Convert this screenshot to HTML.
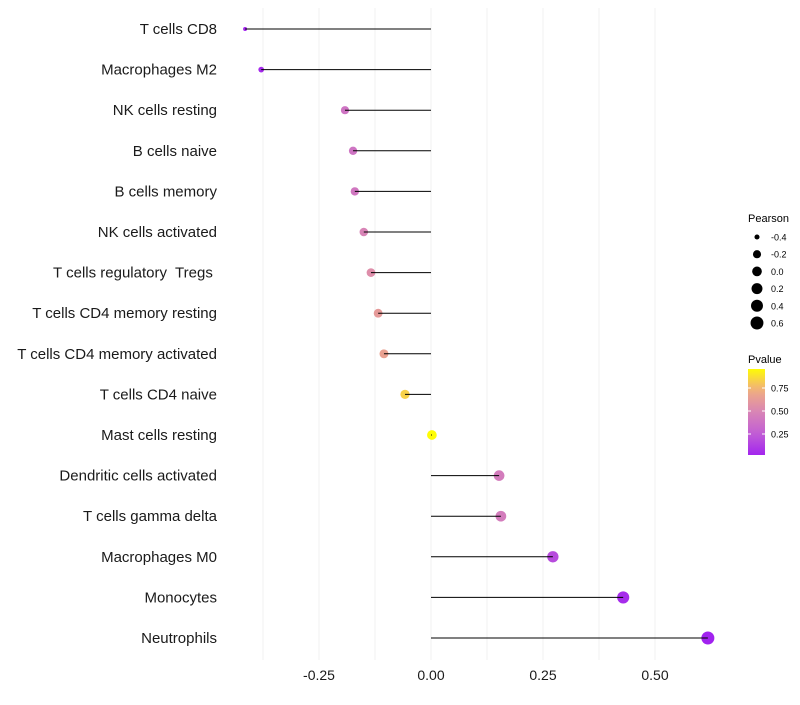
<!DOCTYPE html>
<html><head><meta charset="utf-8"><style>
body{margin:0;background:#fff;font-family:"Liberation Sans",sans-serif}
text{white-space:pre}
</style></head><body>
<svg id="c" width="800" height="700" xmlns="http://www.w3.org/2000/svg"></svg>
<script>
const categories=["T cells CD8","Macrophages M2","NK cells resting","B cells naive","B cells memory","NK cells activated","T cells regulatory  Tregs ","T cells CD4 memory resting","T cells CD4 memory activated","T cells CD4 naive","Mast cells resting","Dendritic cells activated","T cells gamma delta","Macrophages M0","Monocytes","Neutrophils"];
const pearson=[-0.415,-0.379,-0.192,-0.174,-0.170,-0.150,-0.134,-0.118,-0.105,-0.058,0.002,0.152,0.156,0.272,0.429,0.618];
const pvalue=[0.02,0.04,0.40,0.40,0.42,0.50,0.56,0.64,0.68,0.86,0.99,0.45,0.45,0.18,0.05,0.01];
const xTicks=[-0.25,0,0.25,0.5];
const xTickLabels=["-0.25","0.00","0.25","0.50"];
const sizeLegend=[-0.4,-0.2,0.0,0.2,0.4,0.6];
const sizeLegendLabels=["-0.4","-0.2","0.0","0.2","0.4","0.6"];
const pTicks=[0.25,0.5,0.75];
const pTickLabels=["0.25","0.50","0.75"];

const svg=document.getElementById('c');const NS="http://www.w3.org/2000/svg";
function mk(t,a,p){const e=document.createElementNS(NS,t);for(const k in a)e.setAttribute(k,a[k]);(p||svg).appendChild(e);return e;}
const x=v=>431+v*448;
const y=i=>29+i*40.6;
const r=v=>2+4.5*Math.sqrt(Math.max(0,(v+0.415)/1.033));
const stops=[[0,[160,32,240]],[0.25,[192,92,214]],[0.5,[216,132,182]],[0.75,[240,172,130]],[1,[255,255,0]]];
function col(p){for(let i=1;i<stops.length;i++){if(p<=stops[i][0]){const a=stops[i-1],b=stops[i],t=(p-a[0])/(b[0]-a[0]);return 'rgb('+a[1].map((c,j)=>Math.round(c+(b[1][j]-c)*t)).join(',')+')';}}return 'rgb(255,255,0)';}
const grid=mk('g',{});

for(let v=-0.375;v<=0.55;v+=0.125){mk('line',{x1:x(v),x2:x(v),y1:8,y2:660,stroke:'#f2f2f2','stroke-width':1},grid);}
categories.forEach((c,i)=>{
  const t=mk('text',{x:217,y:y(i)+5,'text-anchor':'end','font-size':15,fill:'#1a1a1a'});t.textContent=c;
  
  const ci=mk('circle',{cx:x(pearson[i]),cy:y(i),r:r(pearson[i]),fill:col(pvalue[i])});
  
  const l=mk('line',{x1:x(0),x2:x(pearson[i]),y1:y(i),y2:y(i),stroke:'#000','stroke-width':1});
  
});
xTicks.forEach((v,i)=>{const t=mk('text',{x:x(v),y:680,'text-anchor':'middle','font-size':14,fill:'#1a1a1a'});t.textContent=xTickLabels[i];
});
let t=mk('text',{x:748,y:222,'font-size':11});t.textContent='Pearson';

sizeLegend.forEach((v,i)=>{const yy=237+i*17.2;const c=mk('circle',{cx:757,cy:yy,r:r(v),fill:'#000'});

const tt=mk('text',{x:771,y:yy+3.5,'font-size':9});tt.textContent=sizeLegendLabels[i];
});
t=mk('text',{x:748,y:363,'font-size':11});t.textContent='Pvalue';

const defs=mk('defs',{});const lg=mk('linearGradient',{id:'g',x1:0,y1:1,x2:0,y2:0},defs);
for(let k=0;k<=10;k++){const p=k/10;mk('stop',{offset:p,'stop-color':col(0.02+p*0.97)},lg);}
const bar=mk('rect',{x:748,y:369,width:17,height:86,fill:'url(#g)'});

const py=p=>457-p*92;
pTicks.forEach((p,i)=>{mk('line',{x1:748,x2:751,y1:py(p),y2:py(p),stroke:'#fff'});mk('line',{x1:762,x2:765,y1:py(p),y2:py(p),stroke:'#fff'});
const tt=mk('text',{x:771,y:py(p)+3.5,'font-size':9});tt.textContent=pTickLabels[i];
});
</script>
</body></html>
